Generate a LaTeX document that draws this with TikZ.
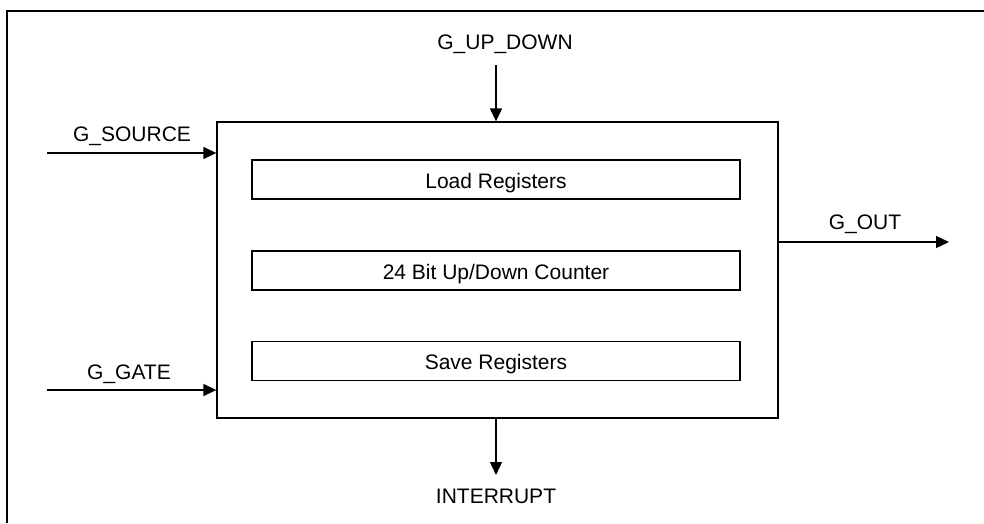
\documentclass[tikz,border=0pt]{standalone}
\usepackage{fontspec}
\setmainfont{Liberation Sans}
\usepackage{tikz}
\usetikzlibrary{arrows.meta,positioning,calc}

\begin{document}
\begin{tikzpicture}[x=1pt,y=-1pt,
    block/.style={draw, line width=1.3pt, inner sep=0pt},
    regbox/.style={block, minimum width=488pt, minimum height=39pt},
    sig/.style={line width=1.3pt, -{Triangle[length=13pt,width=12pt]}},
    lbl/.style={font=\fontsize{21}{25}\selectfont, inner sep=0pt}]
    \useasboundingbox (0,0) rectangle (984,523);

    % outer frame (only top and left edge show)
    \draw[line width=2.4pt] (7,523) -- (7,11) -- (984,11);

    % counter block with its registers
    \node[block, minimum width=561pt, minimum height=296pt] (counter) at (497.5,270) {};
    \node[regbox] (load) at (496,179.5) {};
    \node[lbl, yshift=-4pt] at (load) {Load Registers};
    \node[regbox] (updown) at (496,270.5) {};
    \node[lbl, yshift=-4pt] at (updown) {24 Bit Up/Down Counter};
    \node[regbox] (save) at (496,361) {};
    \node[lbl, yshift=-3pt] at (save) {Save Registers};

    % signals
    \coordinate (srcin) at (47,153);
    \coordinate (gatein) at (47,390);
    \coordinate (udin) at (496,65);
    \coordinate (outend) at (949,242);
    \coordinate (intend) at (496,475);

    \node[lbl] (gsource) at (132,136) {G\_SOURCE};
    \node[lbl] (ggate) at (129,374) {G\_GATE};
    \node[lbl] (gupdown) at (505,44) {G\_UP\_DOWN};
    \node[lbl] (gout) at (865,224) {G\_OUT};
    \node[lbl] (interrupt) at (496,496) {INTERRUPT};

    \draw[sig] (srcin) -- (counter.west |- srcin);
    \draw[sig] (gatein) -- (counter.west |- gatein);
    \draw[sig] (udin) -- (counter.north -| udin);
    \draw[sig] (counter.east |- outend) -- (outend);
    \draw[sig] (counter.south -| intend) -- (intend);
\end{tikzpicture}
\end{document}
